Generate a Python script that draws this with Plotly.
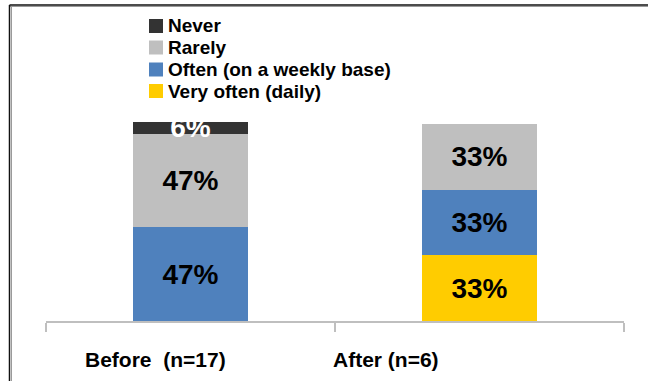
import plotly.graph_objects as go

# Survey groups and the share of answers (%) in each frequency class
categories = ["Before  (n=17)", "After (n=6)"]
series_names = ["Never", "Rarely", "Often (on a weekly base)", "Very often (daily)"]
never = [6, None]
rarely = [47, 33]
often = [47, 33]
very_often = [None, 33]

colors = {
    "Never": "#333333",
    "Rarely": "#BFBFBF",
    "Often (on a weekly base)": "#4F81BD",
    "Very often (daily)": "#FFCC00",
}
label_colors = {
    "Never": "#FFFFFF",
    "Rarely": "#000000",
    "Often (on a weekly base)": "#000000",
    "Very often (daily)": "#000000",
}
values = {
    "Never": never,
    "Rarely": rarely,
    "Often (on a weekly base)": often,
    "Very often (daily)": very_often,
}

W, H = 648, 381
L, R, T, B = 46, 24, 122, 60
PW, PH = W - L - R, H - T - B


def px_x(px):
    return (px - L) / PW


def px_y(py):
    return (H - B - py) / PH


FONT = "Liberation Sans, Arial, sans-serif"

fig = go.Figure()
# stack from the bottom: daily first, never on top
for name in reversed(series_names):
    fig.add_trace(go.Bar(
        x=categories,
        y=values[name],
        name=name,
        marker=dict(color=colors[name], line=dict(width=0)),
        texttemplate="%{y}%",
        textposition="inside",
        insidetextanchor="middle",
        constraintext="none",
        textfont=dict(family=FONT, size=28, color=label_colors[name], weight="bold"),
        showlegend=False,
        hoverinfo="skip",
    ))

shapes = []
annotations = []

# legend block (top to bottom: Never ... Very often)
row_centers = [26, 47.5, 69.5, 91]
for name, cy in zip(series_names, row_centers):
    shapes.append(dict(
        type="rect", xref="paper", yref="paper",
        x0=px_x(149), x1=px_x(163), y0=px_y(cy + 7), y1=px_y(cy - 7),
        fillcolor=colors[name], line=dict(width=0),
    ))
    annotations.append(dict(
        xref="paper", yref="paper", x=px_x(166), y=px_y(cy),
        xanchor="left", yanchor="middle", showarrow=False,
        text=name, font=dict(family=FONT, size=19, color="#000000", weight="bold"),
    ))

# category labels under the axis
label_centers = [155.5, 385.5]
for cat, cx in zip(categories, label_centers):
    annotations.append(dict(
        xref="paper", yref="paper", x=px_x(cx), y=px_y(359),
        xanchor="center", yanchor="middle", showarrow=False,
        text=cat.replace("  ", "&nbsp; "),
        font=dict(family=FONT, size=21, color="#000000", weight="bold"),
    ))

# slide frame: top and left edges
shapes += [
    dict(type="line", xref="paper", yref="paper",
         x0=px_x(9.5), x1=px_x(W + 2), y0=px_y(5), y1=px_y(5),
         line=dict(color="#111111", width=1.5)),
    dict(type="line", xref="paper", yref="paper",
         x0=px_x(9.5), x1=px_x(W + 2), y0=px_y(6.5), y1=px_y(6.5),
         line=dict(color="#9A9A9A", width=1)),
    dict(type="line", xref="paper", yref="paper",
         x0=px_x(9.5), x1=px_x(9.5), y0=px_y(5), y1=px_y(H + 2),
         line=dict(color="#111111", width=1.5)),
    dict(type="line", xref="paper", yref="paper",
         x0=px_x(11.5), x1=px_x(11.5), y0=px_y(6.5), y1=px_y(H + 2),
         line=dict(color="#9A9A9A", width=1)),
]

fig.update_layout(
    width=W, height=H,
    margin=dict(l=L, r=R, t=T, b=B),
    paper_bgcolor="#FFFFFF",
    plot_bgcolor="rgba(0,0,0,0)",
    barmode="stack",
    bargap=0.6,
    showlegend=False,
    shapes=shapes,
    annotations=annotations,
    xaxis=dict(
        type="category",
        categoryorder="array",
        categoryarray=categories,
        range=[-0.5, len(categories) - 0.5],
        showticklabels=False,
        tickson="boundaries",
        ticks="outside", ticklen=9, tickwidth=1.5, tickcolor="#BFBFBF",
        showline=True, linecolor="#BFBFBF", linewidth=1.5,
        showgrid=False, zeroline=False, fixedrange=True,
    ),
    yaxis=dict(
        range=[0, 100], visible=False, showgrid=False, zeroline=False, fixedrange=True,
    ),
)

fig.write_html("out.html")
